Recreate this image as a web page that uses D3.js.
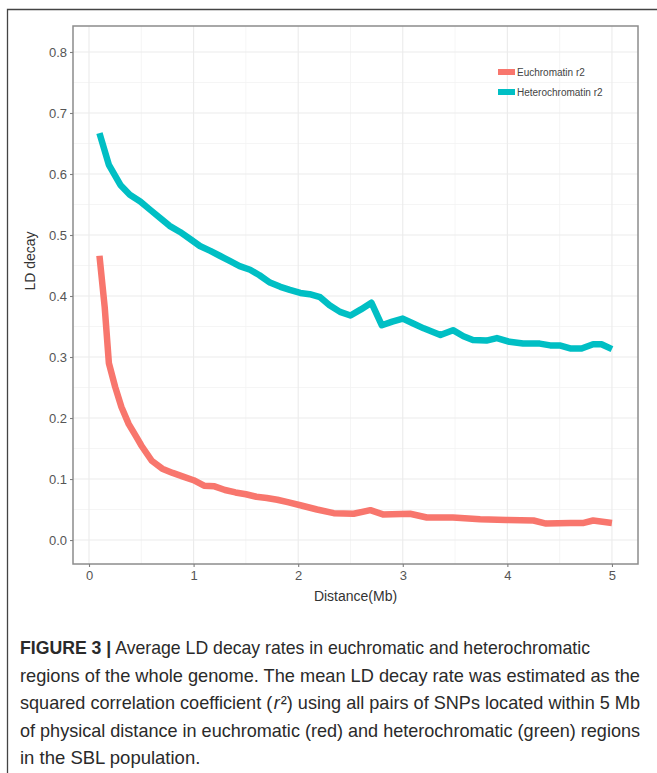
<!DOCTYPE html>
<html>
<head>
<meta charset="utf-8">
<script src="https://cdn.jsdelivr.net/npm/d3@7"></script>
<style>
  body { margin: 0; background: #fff; }
  svg { display: block; }
</style>
</head>
<body>
<script>
// LD decay values
const heteroDist = [0.10, 0.19, 0.30, 0.39, 0.49, 0.58, 0.68, 0.77, 0.87, 0.97, 1.06, 1.16, 1.25, 1.35, 1.44, 1.54, 1.63, 1.73, 1.83, 1.92, 2.02, 2.11, 2.21, 2.30, 2.40, 2.50, 2.60, 2.70, 2.80, 2.90, 3.00, 3.10, 3.20, 3.36, 3.48, 3.58, 3.67, 3.80, 3.90, 4.02, 4.15, 4.31, 4.41, 4.50, 4.60, 4.71, 4.82, 4.90, 5.00];
const heteroR2 = [0.667, 0.615, 0.582, 0.566, 0.555, 0.542, 0.528, 0.515, 0.505, 0.493, 0.482, 0.474, 0.466, 0.457, 0.449, 0.443, 0.434, 0.422, 0.415, 0.410, 0.405, 0.403, 0.398, 0.385, 0.374, 0.368, 0.378, 0.389, 0.352, 0.358, 0.363, 0.355, 0.347, 0.336, 0.344, 0.334, 0.328, 0.327, 0.331, 0.325, 0.322, 0.322, 0.319, 0.319, 0.314, 0.314, 0.321, 0.321, 0.313];

const euchroDist = [0.10, 0.15, 0.19, 0.25, 0.31, 0.38, 0.45, 0.50, 0.60, 0.70, 0.80, 0.90, 1.00, 1.10, 1.20, 1.30, 1.40, 1.50, 1.60, 1.70, 1.80, 1.90, 2.02, 2.18, 2.34, 2.53, 2.69, 2.81, 3.07, 3.23, 3.48, 3.74, 3.99, 4.25, 4.37, 4.60, 4.73, 4.82, 5.00];
const euchroR2 = [0.466, 0.382, 0.290, 0.251, 0.218, 0.190, 0.170, 0.155, 0.130, 0.117, 0.110, 0.104, 0.098, 0.089, 0.088, 0.082, 0.078, 0.075, 0.071, 0.069, 0.066, 0.062, 0.057, 0.050, 0.044, 0.043, 0.049, 0.042, 0.043, 0.037, 0.037, 0.034, 0.033, 0.032, 0.027, 0.028, 0.028, 0.032, 0.028];

const seriesNames = ["Euchromatin r2", "Heterochromatin r2"];
const seriesColors = ["#F8766D", "#00BFC4"];

const xTicks = [0, 1, 2, 3, 4, 5];
const yTicks = [0.0, 0.1, 0.2, 0.3, 0.4, 0.5, 0.6, 0.7, 0.8];

const captionLines = [
  "regions of the whole genome. The mean LD decay rate was estimated as the",
  "of physical distance in euchromatic (red) and heterochromatic (green) regions",
  "in the SBL population."
];

const width = 657;
const height = 773;
const panel = { left: 73, right: 638, top: 26, bottom: 564 };

const svg = d3.select("body")
  .append("svg")
  .attr("width", width)
  .attr("height", height);

// outer figure frame (top and left edges)
svg.append("path")
  .attr("d", `M7.5,${height} V9.5 H${width}`)
  .attr("fill", "none")
  .attr("stroke", "#444")
  .attr("stroke-width", 1.3);

// scales
const x = d3.scaleLinear()
  .domain([-0.153, 5.249])
  .range([panel.left, panel.right]);

const y = d3.scaleLinear()
  .domain([-0.0393, 0.8426])
  .range([panel.bottom, panel.top]);

// grid lines
const grid = svg.append("g");
const xMinor = d3.range(0.5, 5.01, 1);
const yMinor = d3.range(0.05, 0.84, 0.1);

grid.selectAll(".xminor").data(xMinor).enter().append("line")
  .attr("x1", d => x(d)).attr("x2", d => x(d))
  .attr("y1", panel.top).attr("y2", panel.bottom)
  .attr("stroke", "#f2f2f2").attr("stroke-width", 0.8);
grid.selectAll(".yminor").data(yMinor).enter().append("line")
  .attr("y1", d => y(d)).attr("y2", d => y(d))
  .attr("x1", panel.left).attr("x2", panel.right)
  .attr("stroke", "#f2f2f2").attr("stroke-width", 0.8);
grid.selectAll(".xmajor").data(xTicks).enter().append("line")
  .attr("x1", d => x(d)).attr("x2", d => x(d))
  .attr("y1", panel.top).attr("y2", panel.bottom)
  .attr("stroke", "#ebebeb").attr("stroke-width", 1.1);
grid.selectAll(".ymajor").data(yTicks).enter().append("line")
  .attr("y1", d => y(d)).attr("y2", d => y(d))
  .attr("x1", panel.left).attr("x2", panel.right)
  .attr("stroke", "#ebebeb").attr("stroke-width", 1.1);

// lines
const line = d3.line()
  .x(d => x(d[0]))
  .y(d => y(d[1]));

const series = [
  d3.zip(euchroDist, euchroR2),
  d3.zip(heteroDist, heteroR2)
];

svg.selectAll(".series")
  .data(series)
  .enter()
  .append("path")
  .attr("d", line)
  .attr("fill", "none")
  .attr("stroke", (d, i) => seriesColors[i])
  .attr("stroke-width", 6.5)
  .attr("stroke-linejoin", "round")
  .attr("stroke-linecap", "butt");

// panel border
svg.append("rect")
  .attr("x", panel.left)
  .attr("y", panel.top)
  .attr("width", panel.right - panel.left)
  .attr("height", panel.bottom - panel.top)
  .attr("fill", "none")
  .attr("stroke", "#8c8c8c")
  .attr("stroke-width", 1.5);

// axes
const xAxis = svg.append("g")
  .attr("transform", `translate(0, ${panel.bottom})`)
  .call(d3.axisBottom(x).tickValues(xTicks).tickFormat(d3.format("d")).tickSize(3).tickPadding(4));

const yAxis = svg.append("g")
  .attr("transform", `translate(${panel.left}, 0)`)
  .call(d3.axisLeft(y).tickValues(yTicks).tickFormat(d3.format(".1f")).tickSize(3).tickPadding(3));

[xAxis, yAxis].forEach(g => {
  g.select(".domain").remove();
  g.selectAll(".tick line").attr("stroke", "#7f7f7f").attr("stroke-width", 1.1);
  g.selectAll(".tick text")
    .attr("fill", "#555")
    .style("font-family", "'Liberation Sans', Arial, sans-serif")
    .style("font-size", "13px");
});

// axis titles
svg.append("text")
  .attr("x", (panel.left + panel.right) / 2)
  .attr("y", 601)
  .attr("text-anchor", "middle")
  .attr("fill", "#333")
  .style("font-family", "'Liberation Sans', sans-serif")
  .style("font-size", "14px")
  .text("Distance(Mb)");

svg.append("text")
  .attr("transform", "translate(35, 261) rotate(-90)")
  .attr("text-anchor", "middle")
  .attr("fill", "#333")
  .style("font-family", "'Liberation Sans', sans-serif")
  .style("font-size", "14px")
  .text("LD decay");

// legend
const legend = svg.append("g")
  .selectAll("g")
  .data(seriesNames)
  .enter()
  .append("g")
  .attr("transform", (d, i) => `translate(498, ${72 + i * 20})`);

legend.append("line")
  .attr("x1", 0).attr("x2", 17)
  .attr("stroke", (d, i) => seriesColors[i])
  .attr("stroke-width", 6);

legend.append("text")
  .attr("x", 19)
  .attr("dy", "0.35em")
  .attr("fill", "#444")
  .style("font-family", "'Liberation Sans', sans-serif")
  .style("font-size", "10px")
  .text(d => d);

// caption
const cap = svg.append("g")
  .style("font-family", "'Liberation Sans', Arial, sans-serif")
  .style("font-size", "18.5px")
  .attr("fill", "#2a2a2a");

const l1 = cap.append("text").attr("x", 20).attr("y", 654)
  .attr("textLength", 570).attr("lengthAdjust", "spacingAndGlyphs");
l1.append("tspan").style("font-weight", "bold").text("FIGURE 3 |");
l1.append("tspan").text(" Average LD decay rates in euchromatic and heterochromatic");

cap.append("text").attr("x", 20).attr("y", 682)
  .attr("textLength", 620).attr("lengthAdjust", "spacingAndGlyphs")
  .text(captionLines[0]);

const l3 = cap.append("text").attr("x", 20).attr("y", 709)
  .attr("textLength", 620).attr("lengthAdjust", "spacingAndGlyphs");
l3.append("tspan").text("squared correlation coefficient (");
l3.append("tspan").attr("dx", 1.5).style("font-style", "italic").text("r");
l3.append("tspan").attr("dx", 1).text("\u00B2) using all pairs of SNPs located within 5 Mb");

cap.append("text").attr("x", 20).attr("y", 737)
  .attr("textLength", 620).attr("lengthAdjust", "spacingAndGlyphs")
  .text(captionLines[1]);

cap.append("text").attr("x", 20).attr("y", 764)
  .text(captionLines[2]);
</script>
</body>
</html>
